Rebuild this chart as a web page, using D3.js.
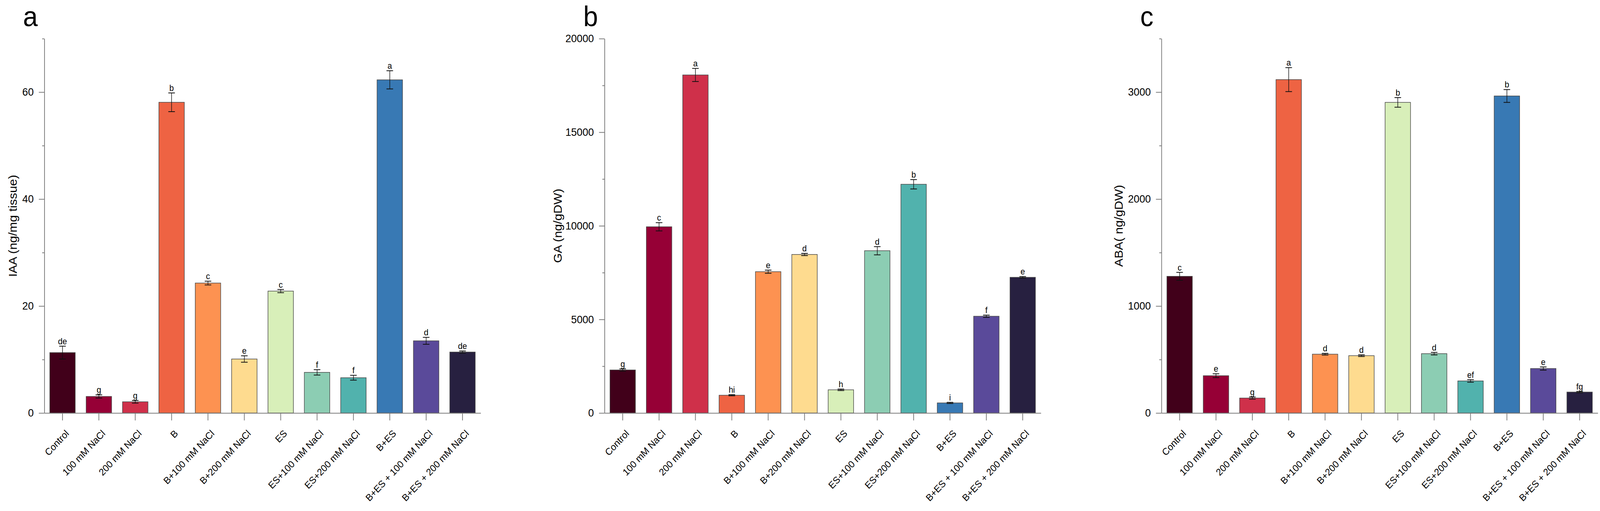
<!DOCTYPE html>
<html>
<head>
<meta charset="utf-8">
<script src="https://cdnjs.cloudflare.com/ajax/libs/d3/7.8.5/d3.min.js"></script>
<style>
html, body { margin: 0; padding: 0; background: #fff; overflow: hidden; }
#chart { display: block; width: 100vw; height: 100vh; }
text { font-family: "Liberation Sans", Arial, sans-serif; }
</style>
</head>
<body>
<svg id="chart" viewBox="0 0 4367 1309" preserveAspectRatio="none"></svg>
<script>
/* global d3 */

var categories = ["Control", "100 mM NaCl", "200 mM NaCl", "B", "B+100 mM NaCl", "B+200 mM NaCl",
    "ES", "ES+100 mM NaCl", "ES+200 mM NaCl", "B+ES", "B+ES + 100 mM NaCl", "B+ES + 200 mM NaCl"];

var colors = ["#41001a", "#960036", "#cf304a", "#ee6343", "#fd9251", "#fedb8f",
    "#d8efb9", "#8ccdb3", "#51b2ad", "#3879b4", "#5a4a9a", "#272040"];

var iaaValues = [11.3, 3.1, 2.1, 58.1, 24.3, 10.1, 22.8, 7.6, 6.6, 62.3, 13.5, 11.4];
var iaaErrors = [1.2, 0.3, 0.25, 1.75, 0.35, 0.6, 0.3, 0.5, 0.45, 1.7, 0.65, 0.2];
var iaaLetters = ["de", "g", "g", "b", "c", "e", "c", "f", "f", "a", "d", "de"];

var gaValues = [2300, 9950, 18060, 950, 7550, 8470, 1240, 8670, 12220, 540, 5170, 7250];
var gaErrors = [60, 220, 350, 30, 85, 60, 40, 220, 250, 30, 60, 40];
var gaLetters = ["g", "c", "a", "hi", "e", "d", "h", "d", "b", "i", "f", "e"];

var abaValues = [1278, 349, 140, 3117, 550, 536, 2904, 555, 300, 2964, 416, 196];
var abaErrors = [37, 18, 10, 112, 8, 8, 45, 12, 12, 60, 15, 6];
var abaLetters = ["c", "e", "g", "a", "d", "d", "b", "d", "ef", "b", "e", "fg"];

var iaaTicks = [0, 20, 40, 60];
var iaaMinor = [10, 30, 50, 70];
var gaTicks = [0, 5000, 10000, 15000, 20000];
var gaMinor = [2500, 7500, 12500, 17500];
var abaTicks = [0, 1000, 2000, 3000];
var abaMinor = [500, 1500, 2500, 3500];

var yTop = 99, yBase = 1058, panelWidth = 1191;
var axisColor = "#7a7a7a";

var panels = [
    { tag: "a", title: "IAA (ng/mg tissue)", values: iaaValues, errors: iaaErrors, letters: iaaLetters,
      max: 70, ticks: iaaTicks, minor: iaaMinor, left: 121, titleOffset: 75 },
    { tag: "b", title: "GA (ng/gDW)", values: gaValues, errors: gaErrors, letters: gaLetters,
      max: 20000, ticks: gaTicks, minor: gaMinor, left: 1650, titleOffset: 117 },
    { tag: "c", title: "ABA( ng/gDW)", values: abaValues, errors: abaErrors, letters: abaLetters,
      max: 3500, ticks: abaTicks, minor: abaMinor, left: 3170, titleOffset: 106 }
];

var svg = d3.select("#chart");

function drawPanel(p) {
    var g = svg.append("g");

    var x = d3.scaleBand()
        .domain(categories)
        .range([p.left, p.left + panelWidth])
        .paddingInner(0.3)
        .paddingOuter(0.15);

    var y = d3.scaleLinear()
        .domain([0, p.max])
        .range([yBase, yTop]);

    var rows = categories.map(function (c, i) {
        return { cat: c, v: p.values[i], e: p.errors[i], letter: p.letters[i], color: colors[i] };
    });

    // minor ticks first, then the labelled axis
    var minorAxis = g.append("g")
        .attr("transform", "translate(" + p.left + ",0)")
        .call(d3.axisLeft(y).tickValues(p.minor).tickSize(6).tickSizeOuter(0).tickFormat(""));
    minorAxis.select(".domain").remove();
    minorAxis.selectAll("line").attr("stroke", axisColor).attr("stroke-width", 2);

    var yAxis = g.append("g")
        .attr("transform", "translate(" + p.left + ",0)")
        .call(d3.axisLeft(y).tickValues(p.ticks).tickSize(15).tickSizeOuter(0).tickPadding(14)
            .tickFormat(d3.format("d")));
    yAxis.select(".domain").attr("stroke", axisColor).attr("stroke-width", 2);
    yAxis.selectAll("line").attr("stroke", axisColor).attr("stroke-width", 2);
    yAxis.selectAll("text").attr("font-size", 28).attr("fill", "#000")
        .attr("font-family", "Liberation Sans, Arial, sans-serif");

    g.selectAll(".bar")
        .data(rows)
        .enter().append("rect")
        .attr("class", "bar")
        .attr("x", function (d) { return x(d.cat); })
        .attr("width", x.bandwidth())
        .attr("y", function (d) { return y(d.v); })
        .attr("height", function (d) { return yBase - y(d.v); })
        .attr("fill", function (d) { return d.color; })
        .attr("stroke", "#4a4a4a")
        .attr("stroke-width", 1.5);

    var cx = function (d) { return x(d.cat) + x.bandwidth() / 2; };
    var cap = 9;

    var err = g.selectAll(".err")
        .data(rows)
        .enter().append("g")
        .attr("class", "err")
        .attr("stroke", "#111")
        .attr("stroke-width", 1.5);
    err.append("line")
        .attr("x1", cx).attr("x2", cx)
        .attr("y1", function (d) { return y(d.v + d.e); })
        .attr("y2", function (d) { return y(d.v - d.e); });
    err.append("line")
        .attr("x1", function (d) { return cx(d) - cap; })
        .attr("x2", function (d) { return cx(d) + cap; })
        .attr("y1", function (d) { return y(d.v + d.e); })
        .attr("y2", function (d) { return y(d.v + d.e); })
        .attr("stroke-width", 2);
    err.append("line")
        .attr("x1", function (d) { return cx(d) - cap; })
        .attr("x2", function (d) { return cx(d) + cap; })
        .attr("y1", function (d) { return y(d.v - d.e); })
        .attr("y2", function (d) { return y(d.v - d.e); })
        .attr("stroke-width", 2);

    g.selectAll(".sig")
        .data(rows)
        .enter().append("text")
        .attr("class", "sig")
        .attr("x", cx)
        .attr("y", function (d) { return y(d.v + d.e) - 5; })
        .attr("text-anchor", "middle")
        .attr("font-size", 22)
        .text(function (d) { return d.letter; });

    var xAxis = g.append("g")
        .attr("transform", "translate(0," + yBase + ")")
        .call(d3.axisBottom(x).tickSize(19).tickSizeOuter(0));
    xAxis.select(".domain").attr("stroke", axisColor).attr("stroke-width", 2);
    xAxis.selectAll("line").attr("stroke", axisColor).attr("stroke-width", 2);
    xAxis.selectAll("text")
        .attr("font-size", 25)
        .attr("fill", "#000")
        .attr("font-family", "Liberation Sans, Arial, sans-serif")
        .attr("text-anchor", "end")
        .attr("x", 0).attr("y", 0).attr("dy", 0)
        .attr("transform", "translate(19,54) rotate(-45)");

    g.append("text")
        .attr("transform", "translate(" + (p.left - p.titleOffset) + "," + ((yTop + yBase) / 2) + ") rotate(-90)")
        .attr("text-anchor", "middle")
        .attr("font-size", 32)
        .text(p.title);

    g.append("text")
        .attr("x", p.left - 58)
        .attr("y", 67)
        .attr("font-size", 72)
        .text(p.tag);
}

panels.forEach(drawPanel);
</script>
</body>
</html>
